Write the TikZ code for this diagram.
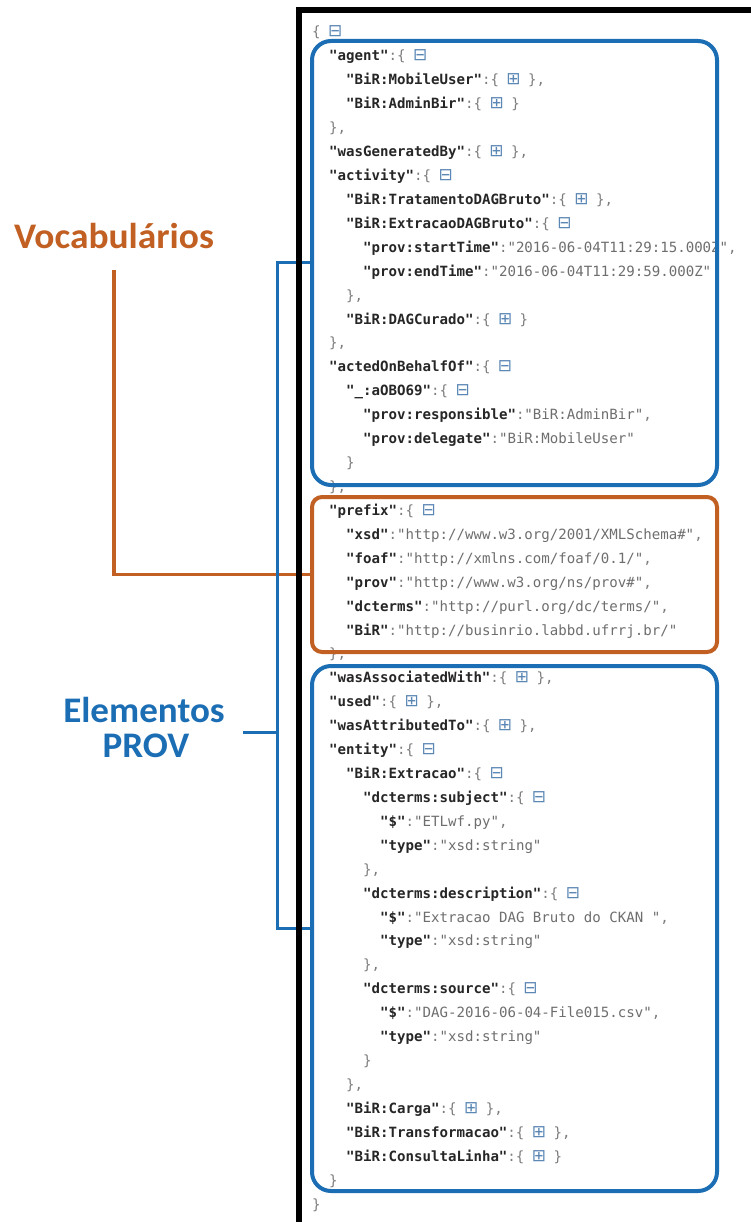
\documentclass[tikz,border=0pt]{standalone}
\usepackage{fontspec}
\setmainfont{DejaVu Sans}
\newfontfamily\jsonf{DejaVu Sans Mono}
\newfontfamily\symf{DejaVu Sans}
\newfontfamily\labf{Carlito}
\definecolor{provblue}{RGB}{28,110,180}
\definecolor{vocorange}{RGB}{193,96,34}
\definecolor{keyc}{HTML}{262626}
\definecolor{valc}{HTML}{6E6E6E}
\definecolor{punc}{HTML}{7C7C7C}
\definecolor{iconc}{HTML}{5B87B5}
\newcommand\jsKey[1]{{\bfseries\color{keyc}"#1"}}
\newcommand\jsVal[1]{{\color{valc}"#1"}}
\newcommand\jsCol{{\color{punc}:}}
\newcommand\jsOpen{{\color{punc}\{}}
\newcommand\jsClose{{\color{punc}\}}}
\newcommand\jsCom{{\color{punc},}}
\newcommand\icMin{{\symf\fontsize{17}{17}\selectfont\color{iconc}\kern-1pt⊟\kern-1pt}}
\newcommand\icPlus{{\symf\fontsize{17}{17}\selectfont\color{iconc}\kern-1pt⊞\kern-1pt}}
\newcommand\jsLine[3]{\node[jline] (l#1) at ({312+17*#2},{37+23.92*#1}) {#3};}
\tikzset{
  jline/.style={anchor=base west, inner sep=0pt, font=\jsonf\fontsize{14.1}{14.1}\selectfont\frenchspacing},
  bluebox/.style={draw=provblue, line width=4pt, rounded corners=19pt, outer sep=0pt, inner sep=0pt},
  orangebox/.style={draw=vocorange, line width=4pt, rounded corners=10pt, outer sep=0pt, inner sep=0pt},
  blueline/.style={draw=provblue, line width=3pt},
  orangeline/.style={draw=vocorange, line width=3.5pt},
  voclabel/.style={font=\labf\bfseries\fontsize{36}{40}\selectfont, text=vocorange, inner sep=0pt, anchor=base, xscale=1.04, transform shape},
  provlabel/.style={font=\labf\bfseries\fontsize{36}{40}\selectfont, text=provblue, inner sep=0pt, anchor=base, xscale=1.03, transform shape},
  frame/.style={draw=black, line width=5.5pt}
}
\begin{document}
\begin{tikzpicture}[x=1pt,y=-1pt]
\fill[white] (0,0) rectangle (750,1222);
\useasboundingbox (0,0) rectangle (750,1222);

% JSON text
\jsLine{0}{0}{\jsOpen\ \icMin}
\jsLine{1}{1}{\jsKey{agent}\jsCol\jsOpen\ \icMin}
\jsLine{2}{2}{\jsKey{BiR:MobileUser}\jsCol\jsOpen\ \icPlus\ \jsClose\jsCom}
\jsLine{3}{2}{\jsKey{BiR:AdminBir}\jsCol\jsOpen\ \icPlus\ \jsClose}
\jsLine{4}{1}{\jsClose\jsCom}
\jsLine{5}{1}{\jsKey{wasGeneratedBy}\jsCol\jsOpen\ \icPlus\ \jsClose\jsCom}
\jsLine{6}{1}{\jsKey{activity}\jsCol\jsOpen\ \icMin}
\jsLine{7}{2}{\jsKey{BiR:TratamentoDAGBruto}\jsCol\jsOpen\ \icPlus\ \jsClose\jsCom}
\jsLine{8}{2}{\jsKey{BiR:ExtracaoDAGBruto}\jsCol\jsOpen\ \icMin}
\jsLine{9}{3}{\jsKey{prov:startTime}\jsCol\jsVal{2016-06-04T11:29:15.000Z}\jsCom}
\jsLine{10}{3}{\jsKey{prov:endTime}\jsCol\jsVal{2016-06-04T11:29:59.000Z}}
\jsLine{11}{2}{\jsClose\jsCom}
\jsLine{12}{2}{\jsKey{BiR:DAGCurado}\jsCol\jsOpen\ \icPlus\ \jsClose}
\jsLine{13}{1}{\jsClose\jsCom}
\jsLine{14}{1}{\jsKey{actedOnBehalfOf}\jsCol\jsOpen\ \icMin}
\jsLine{15}{2}{\jsKey{\_:aOBO69}\jsCol\jsOpen\ \icMin}
\jsLine{16}{3}{\jsKey{prov:responsible}\jsCol\jsVal{BiR:AdminBir}\jsCom}
\jsLine{17}{3}{\jsKey{prov:delegate}\jsCol\jsVal{BiR:MobileUser}}
\jsLine{18}{2}{\jsClose}
\jsLine{19}{1}{\jsClose\jsCom}
\jsLine{20}{1}{\jsKey{prefix}\jsCol\jsOpen\ \icMin}
\jsLine{21}{2}{\jsKey{xsd}\jsCol\jsVal{http://www.w3.org/2001/XMLSchema\#}\jsCom}
\jsLine{22}{2}{\jsKey{foaf}\jsCol\jsVal{http://xmlns.com/foaf/0.1/}\jsCom}
\jsLine{23}{2}{\jsKey{prov}\jsCol\jsVal{http://www.w3.org/ns/prov\#}\jsCom}
\jsLine{24}{2}{\jsKey{dcterms}\jsCol\jsVal{http://purl.org/dc/terms/}\jsCom}
\jsLine{25}{2}{\jsKey{BiR}\jsCol\jsVal{http://businrio.labbd.ufrrj.br/}}
\jsLine{26}{1}{\jsClose\jsCom}
\jsLine{27}{1}{\jsKey{wasAssociatedWith}\jsCol\jsOpen\ \icPlus\ \jsClose\jsCom}
\jsLine{28}{1}{\jsKey{used}\jsCol\jsOpen\ \icPlus\ \jsClose\jsCom}
\jsLine{29}{1}{\jsKey{wasAttributedTo}\jsCol\jsOpen\ \icPlus\ \jsClose\jsCom}
\jsLine{30}{1}{\jsKey{entity}\jsCol\jsOpen\ \icMin}
\jsLine{31}{2}{\jsKey{BiR:Extracao}\jsCol\jsOpen\ \icMin}
\jsLine{32}{3}{\jsKey{dcterms:subject}\jsCol\jsOpen\ \icMin}
\jsLine{33}{4}{\jsKey{\$}\jsCol\jsVal{ETLwf.py}\jsCom}
\jsLine{34}{4}{\jsKey{type}\jsCol\jsVal{xsd:string}}
\jsLine{35}{3}{\jsClose\jsCom}
\jsLine{36}{3}{\jsKey{dcterms:description}\jsCol\jsOpen\ \icMin}
\jsLine{37}{4}{\jsKey{\$}\jsCol\jsVal{Extracao DAG Bruto do CKAN\ }\jsCom}
\jsLine{38}{4}{\jsKey{type}\jsCol\jsVal{xsd:string}}
\jsLine{39}{3}{\jsClose\jsCom}
\jsLine{40}{3}{\jsKey{dcterms:source}\jsCol\jsOpen\ \icMin}
\jsLine{41}{4}{\jsKey{\$}\jsCol\jsVal{DAG-2016-06-04-File015.csv}\jsCom}
\jsLine{42}{4}{\jsKey{type}\jsCol\jsVal{xsd:string}}
\jsLine{43}{3}{\jsClose}
\jsLine{44}{2}{\jsClose\jsCom}
\jsLine{45}{2}{\jsKey{BiR:Carga}\jsCol\jsOpen\ \icPlus\ \jsClose\jsCom}
\jsLine{46}{2}{\jsKey{BiR:Transformacao}\jsCol\jsOpen\ \icPlus\ \jsClose\jsCom}
\jsLine{47}{2}{\jsKey{BiR:ConsultaLinha}\jsCol\jsOpen\ \icPlus\ \jsClose}
\jsLine{48}{1}{\jsClose}
\jsLine{49}{0}{\jsClose}

% highlight boxes
\node[bluebox, minimum width=405pt, minimum height=444pt] (box1) at (514.5,263) {};
\node[orangebox, minimum width=405pt, minimum height=155pt] (pbox) at (514.5,574.5) {};
\node[bluebox, minimum width=405pt, minimum height=525pt] (box2) at (514.5,928.5) {};

% labels
\node[voclabel] (voc) at (114,249) {Vocabulários};
\node[provlabel] (elem) at (144,722) {Elementos};
\node[provlabel] (provl) at (146,757) {PROV};

% connectors
\draw[orangeline] ([yshift=-21pt]voc.south) |- (pbox.west);
\draw[blueline] (box1.west) -- ++(-35,0) coordinate (bt) |- (box2.west);
\coordinate (tk) at (243,732);
\draw[blueline] (tk) -- (tk -| bt);

% black frame of the screenshot
\draw[frame] (299,1226) -- (299,10) -- (756,10);
\end{tikzpicture}
\end{document}
